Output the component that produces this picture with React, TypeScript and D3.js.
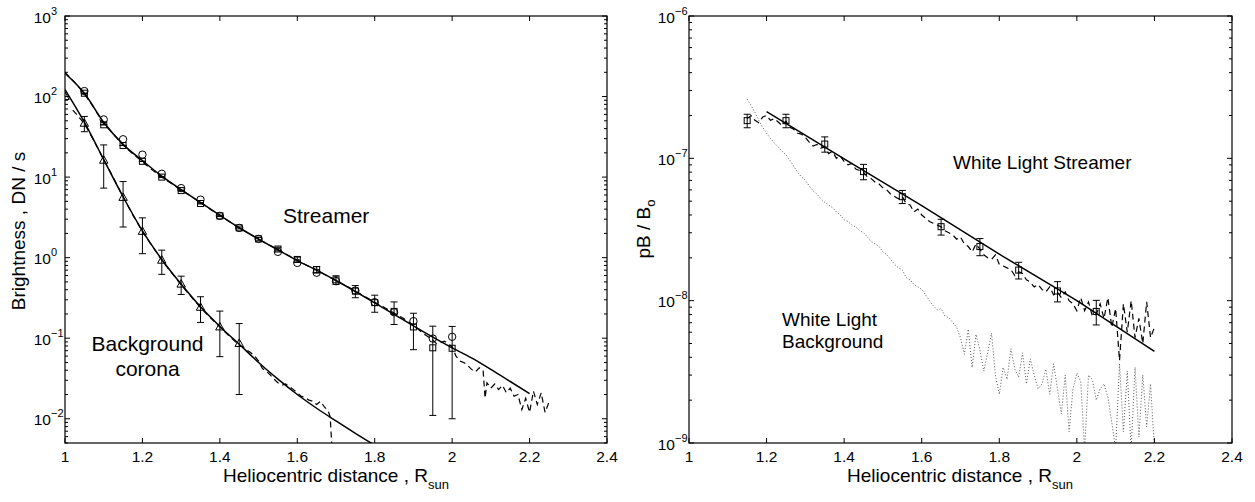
import React from 'react';
import * as d3 from 'd3';

const W = 1255;
const H = 502;
const FONT = '"Liberation Sans", Arial, Helvetica, sans-serif';

// ---------- shared axis data ----------
const xTickVals = [1, 1.2, 1.4, 1.6, 1.8, 2, 2.2, 2.4];
const xTickLabels = ['1', '1.2', '1.4', '1.6', '1.8', '2', '2.2', '2.4'];
const leftDecades = [-2, -1, 0, 1, 2, 3];
const rightDecades = [-9, -8, -7, -6];

// ---------- left panel: EUV brightness ----------
const markerX = [1.05, 1.1, 1.15, 1.2, 1.25, 1.3, 1.35, 1.4, 1.45, 1.5, 1.55, 1.6, 1.65, 1.7, 1.75, 1.8, 1.85, 1.9, 1.95, 2.0];
const streamerCircles = [117, 52, 29.5, 19, 11, 7.3, 5.25, 3.3, 2.34, 1.71, 1.18, 0.86, 0.65, 0.51, 0.39, 0.28, 0.21, 0.163, 0.099, 0.104];
const streamerSquares = [110, 44.6, 24.7, 15.7, 10, 6.8, 4.7, 3.3, 2.34, 1.71, 1.28, 0.95, 0.71, 0.53, 0.384, 0.276, 0.215, 0.138, 0.076, 0.075];
const streamerSquareErr = [0.066, 0.066, 0.066, 0.066, 0.066, 0.066, 0.066, 0.066, 0.066, 0.066, 0.066, 0.066, 0.066, 0.066, 0.066, 0.066, 0.067, 0.066, 0.065, 0.065];

const streamerFitX = [1.0, 1.05, 1.1, 1.15, 1.2, 1.25, 1.3, 1.35, 1.4, 1.45, 1.5, 1.55, 1.6, 1.65, 1.7, 1.75, 1.8, 1.85, 1.9, 1.95, 2.0, 2.05, 2.1, 2.15, 2.2];
const streamerFitY = [195, 110, 48, 25.5, 16, 10.3, 7.0, 4.85, 3.35, 2.35, 1.7, 1.25, 0.92, 0.7, 0.52, 0.38, 0.275, 0.198, 0.142, 0.103, 0.076, 0.057, 0.041, 0.029, 0.0205];

const streamerDashX = [1.0, 1.025, 1.05, 1.075, 1.1, 1.125, 1.15, 1.175, 1.2, 1.225, 1.25, 1.275, 1.3, 1.325, 1.35, 1.375, 1.4, 1.425, 1.45, 1.475, 1.5, 1.525, 1.55, 1.575, 1.6, 1.625, 1.65, 1.675, 1.7, 1.725, 1.75, 1.775, 1.8, 1.825, 1.85, 1.875, 1.9, 1.925, 1.95, 1.96, 1.97, 1.98, 1.99, 2.0, 2.01, 2.02, 2.03, 2.04, 2.05, 2.06, 2.07, 2.08, 2.085, 2.09, 2.1, 2.11, 2.12, 2.13, 2.14, 2.15, 2.16, 2.17, 2.18, 2.19, 2.2, 2.21, 2.22, 2.23, 2.24, 2.25];
const streamerDashY = [200, 150, 108, 72, 46, 34, 25, 19.5, 15.5, 12.3, 10.0, 8.3, 6.9, 5.8, 4.8, 4.0, 3.35, 2.8, 2.35, 2.0, 1.7, 1.45, 1.26, 1.08, 0.93, 0.8, 0.7, 0.6, 0.52, 0.45, 0.385, 0.33, 0.28, 0.24, 0.205, 0.175, 0.145, 0.115, 0.095, 0.085, 0.088, 0.092, 0.085, 0.078, 0.06, 0.052, 0.05, 0.046, 0.041, 0.038, 0.043, 0.04, 0.018, 0.028, 0.024, 0.027, 0.023, 0.026, 0.021, 0.024, 0.019, 0.02, 0.013, 0.018, 0.012, 0.022, 0.015, 0.021, 0.012, 0.016];

const bgTriX = [1.0, 1.05, 1.1, 1.15, 1.2, 1.25, 1.3, 1.35, 1.4, 1.45];
const bgTriY = [100, 46.6, 16.2, 5.6, 2.12, 0.93, 0.469, 0.242, 0.138, 0.086];
const bgTriErr = [0, 10, 8.9, 3.2, 1.0, 0.31, 0.12, 0.085, 0.079, 0.066];

const bgFitX = [1.0, 1.05, 1.1, 1.15, 1.2, 1.25, 1.3, 1.35, 1.4, 1.45, 1.5, 1.55, 1.6, 1.65, 1.7, 1.75, 1.8];
const bgFitY = [122, 48, 16.5, 5.7, 2.15, 0.95, 0.47, 0.245, 0.14, 0.084, 0.05, 0.031, 0.02, 0.0135, 0.0094, 0.0066, 0.0047];

const bgDashX = [1.02, 1.03, 1.05, 1.075, 1.1, 1.125, 1.15, 1.175, 1.2, 1.225, 1.25, 1.275, 1.3, 1.325, 1.35, 1.375, 1.4, 1.425, 1.45, 1.46, 1.47, 1.48, 1.49, 1.5, 1.51, 1.52, 1.53, 1.54, 1.55, 1.56, 1.57, 1.58, 1.59, 1.6, 1.61, 1.62, 1.63, 1.64, 1.65, 1.66, 1.67, 1.68, 1.685, 1.69];
const bgDashY = [68, 60, 46, 28, 16.5, 9.8, 5.7, 3.4, 2.1, 1.4, 0.93, 0.65, 0.46, 0.33, 0.24, 0.18, 0.138, 0.105, 0.082, 0.078, 0.071, 0.066, 0.06, 0.052, 0.042, 0.039, 0.035, 0.031, 0.028, 0.026, 0.027, 0.025, 0.023, 0.021, 0.019, 0.0185, 0.017, 0.0165, 0.015, 0.0165, 0.014, 0.0125, 0.0105, 0.004];

// ---------- right panel: white light pB/B0 ----------
const wlSqX = [1.15, 1.25, 1.35, 1.45, 1.55, 1.65, 1.75, 1.85, 1.95, 2.05];
const wlSqY = [1.84e-7, 1.84e-7, 1.26e-7, 8.07e-8, 5.38e-8, 3.31e-8, 2.4e-8, 1.64e-8, 1.17e-8, 8.4e-9];
const wlSqErr = [2.0e-8, 2.0e-8, 1.55e-8, 1.0e-8, 5.7e-9, 4.2e-9, 3.3e-9, 2.2e-9, 1.9e-9, 1.65e-9];

const wlFitX = [1.2, 1.4, 1.6, 1.8, 2.0, 2.2];
const wlFitY = [2.13e-7, 9.9e-8, 4.65e-8, 2.12e-8, 1.0e-8, 4.4e-9];

const wlStart = 1.15;
const wlStep = 0.01;
// streamer pB (units of 1e-9), sampled every 0.01 from 1.15
const wlDash = [
  190, 200, 185, 178, 195, 200, 185, 190, 180, 170,
  182, 165, 160, 150, 148, 140, 130, 122, 125, 118,
  120, 108, 112, 100, 104, 95, 90, 92, 84, 82,
  80, 74, 72, 68, 66, 62, 60, 56, 54, 52,
  54, 48, 47, 42, 44, 40, 38, 36, 35, 34,
  33, 31, 30, 29, 27, 28, 25, 24, 22, 25,
  23, 21, 20, 19.5, 21, 18, 17.5, 17, 16.5, 15,
  16, 15.5, 14, 13.5, 12.5, 13, 12, 11.5, 12.5, 11,
  11.5, 10.5, 11.5, 10, 9.5, 8.5, 10.5, 8.5, 9.8, 7.8,
  8.0, 9.5, 7.5, 10.5, 6.5, 8.8, 3.8, 9.5, 6.0, 10.0,
  5.5, 7.5, 5.0, 9.8, 5.5, 6.5,
];
// background pB (units of 1e-9)
const wlDot = [
  260, 235, 210, 185, 165, 150, 138, 128, 120, 112,
  106, 97, 88, 80, 74, 70, 64, 59, 56, 52,
  49, 47, 45, 42, 40, 37, 36, 34, 33, 31,
  30, 28, 26, 25, 24, 22, 21, 19.5, 18, 17,
  16.5, 14.5, 14, 13, 12.5, 12, 11, 10, 9.2, 8.6,
  8.8, 7.8, 7.6, 7.0, 6.5, 5.5, 4.2, 6.3, 3.4, 5.8,
  4.5, 3.2, 4.3, 5.9, 3.0, 2.2, 3.4, 2.8, 4.6, 3.3,
  2.9, 4.3, 2.6, 3.9, 3.0, 2.4, 2.6, 3.3, 2.2, 3.6,
  2.4, 1.6, 3.0, 1.2, 2.4, 3.1, 2.7, 0.9, 3.0, 2.8,
  2.0, 2.4, 2.6, 2.1, 1.4, 0.9, 3.6, 1.2, 3.2, 0.9,
  3.4, 1.1, 3.0, 1.3, 2.6, 0.9,
];

// ---------- scales ----------
const xL = d3.scaleLinear().domain([1, 2.4]).range([65, 607]);
const yL = d3.scaleLog().domain([0.005, 1000]).range([443, 16]);
const xR = d3.scaleLinear().domain([1, 2.4]).range([689, 1232]);
const yR = d3.scaleLog().domain([1e-9, 1e-6]).range([443, 16]);

type P = [number, number];
const zip = (xs: number[], ys: number[]): P[] => xs.map((x, i) => [x, ys[i]]);

function Axes({ xs, ys, decades }: { xs: any; ys: any; decades: number[] }) {
  const [x0, x1] = xs.range();
  const [yb, yt] = ys.range();
  const [dmin, dmax] = ys.domain();
  const minors: number[] = [];
  for (let e = Math.floor(Math.log10(dmin)); e < Math.ceil(Math.log10(dmax)); e++) {
    for (let k = 2; k <= 9; k++) {
      const v = k * Math.pow(10, e);
      if (v >= dmin * 0.999 && v <= dmax * 1.001) minors.push(v);
    }
  }
  const els: any[] = [];
  xTickVals.forEach((v, i) => {
    const x = xs(v);
    els.push(<line key={'xt' + i} x1={x} x2={x} y1={yb} y2={yb - 5} />);
    els.push(<line key={'xtt' + i} x1={x} x2={x} y1={yt} y2={yt + 5} />);
    els.push(
      <text key={'xl' + i} x={x} y={yb + 19} textAnchor="middle" fontSize={15.5} stroke="none" fill="#000">
        {xTickLabels[i]}
      </text>
    );
  });
  decades.forEach((e, i) => {
    const y = ys(Math.pow(10, e));
    els.push(<line key={'yt' + i} x1={x0} x2={x0 + 5} y1={y} y2={y} />);
    els.push(<line key={'ytr' + i} x1={x1} x2={x1 - 5} y1={y} y2={y} />);
    els.push(
      <text key={'yl' + i} x={x0 - 14} y={y + 6.5} textAnchor="end" fontSize={15.5} stroke="none" fill="#000">
        10
      </text>
    );
    els.push(
      <text key={'ye' + i} x={x0 - 14} y={y - 1.5} textAnchor="start" fontSize={11} stroke="none" fill="#000">
        {e < 0 ? '\u2212' + Math.abs(e) : String(e)}
      </text>
    );
  });
  minors.forEach((v, i) => {
    const y = ys(v);
    els.push(<line key={'ym' + i} x1={x0} x2={x0 + 3} y1={y} y2={y} />);
    els.push(<line key={'ymr' + i} x1={x1} x2={x1 - 3} y1={y} y2={y} />);
  });
  return (
    <g stroke="#000" strokeWidth={1} fontFamily={FONT}>
      <rect x={x0} y={yt} width={x1 - x0} height={yb - yt} fill="none" strokeWidth={1.2} />
      {els}
    </g>
  );
}

function ErrorBars({ xs, ys, pts, errs, cap }: { xs: any; ys: any; pts: P[]; errs: number[]; cap: number }) {
  const yb = ys.range()[0];
  return (
    <g stroke="#000" strokeWidth={1} fill="none">
      {pts.map((p, i) => {
        if (!errs[i]) return null;
        const x = xs(p[0]);
        const lo = p[1] - errs[i];
        const yLo = lo > 0 ? ys(lo) : yb + 20;
        const yHi = ys(p[1] + errs[i]);
        return (
          <g key={i}>
            <line x1={x} x2={x} y1={yLo} y2={yHi} />
            {lo > 0 && <line x1={x - cap} x2={x + cap} y1={yLo} y2={yLo} />}
            <line x1={x - cap} x2={x + cap} y1={yHi} y2={yHi} />
          </g>
        );
      })}
    </g>
  );
}

export default function App() {
  const lineL = d3.line<P>().x((d) => xL(d[0])).y((d) => yL(d[1]));
  const fitL = d3.line<P>().x((d) => xL(d[0])).y((d) => yL(d[1])).curve(d3.curveMonotoneX);
  const lineR = d3.line<P>().x((d) => xR(d[0])).y((d) => yR(d[1]));

  const wlDashPts: P[] = wlDash.map((v, i) => [wlStart + i * wlStep, v * 1e-9]);
  const wlDotPts: P[] = wlDot.map((v, i) => [wlStart + i * wlStep, v * 1e-9]);

  const circles = zip(markerX, streamerCircles);
  const squares = zip(markerX, streamerSquares);
  const tris = zip(bgTriX, bgTriY);
  const wlSq = zip(wlSqX, wlSqY);

  return (
    <svg width={W} height={H} style={{ position: 'absolute', left: 0, top: 0, background: '#fff' }} fontFamily={FONT}>
      <defs>
        <clipPath id="clipL">
          <rect x={65} y={16} width={542} height={427} />
        </clipPath>
        <clipPath id="clipR">
          <rect x={689} y={16} width={543} height={427} />
        </clipPath>
      </defs>
      <rect x={0} y={0} width={W} height={H} fill="#fff" />

      {/* ---------------- left panel ---------------- */}
      <g clipPath="url(#clipL)" fill="none" stroke="#000">
        <path d={fitL(zip(streamerFitX, streamerFitY)) || ''} strokeWidth={1.5} />
        <path d={fitL(zip(bgFitX, bgFitY)) || ''} strokeWidth={1.5} />
        <path d={lineL(zip(streamerDashX, streamerDashY)) || ''} strokeWidth={1.2} strokeDasharray="6,4" />
        <path d={lineL(zip(bgDashX, bgDashY)) || ''} strokeWidth={1.2} strokeDasharray="6,4" />
        <ErrorBars xs={xL} ys={yL} pts={squares} errs={streamerSquareErr} cap={3.5} />
        <ErrorBars xs={xL} ys={yL} pts={tris} errs={bgTriErr} cap={3.5} />
        {circles.map((p, i) => (
          <circle key={'c' + i} cx={xL(p[0])} cy={yL(p[1])} r={3.7} strokeWidth={1} />
        ))}
        {squares.map((p, i) => (
          <rect key={'s' + i} x={xL(p[0]) - 3} y={yL(p[1]) - 3} width={6} height={6} strokeWidth={1} />
        ))}
        {tris.map((p, i) => {
          const x = xL(p[0]);
          const y = yL(p[1]);
          return <path key={'t' + i} d={`M${x},${y - 4.5}L${x + 4.2},${y + 3}L${x - 4.2},${y + 3}Z`} strokeWidth={1} />;
        })}
      </g>
      <Axes xs={xL} ys={yL} decades={leftDecades} />
      <text x={283} y={223} fontSize={21}>Streamer</text>
      <text x={147.5} y={351} fontSize={21} textAnchor="middle">Background</text>
      <text x={147.5} y={376} fontSize={21} textAnchor="middle">corona</text>
      <text x={336} y={482} fontSize={19} textAnchor="middle">
        Heliocentric distance , R<tspan fontSize={13} dy={7}>sun</tspan>
      </text>
      <text transform="translate(25,231) rotate(-90)" fontSize={19} textAnchor="middle">
        Brightness , DN / s
      </text>

      {/* ---------------- right panel ---------------- */}
      <g clipPath="url(#clipR)" fill="none" stroke="#000">
        <path d={lineR(wlDotPts) || ''} strokeWidth={0.9} strokeDasharray="1,2" stroke="#444" />
        <path d={lineR(zip(wlFitX, wlFitY)) || ''} strokeWidth={1.5} />
        <path d={lineR(wlDashPts) || ''} strokeWidth={1.2} strokeDasharray="6,4" />
        <ErrorBars xs={xR} ys={yR} pts={wlSq} errs={wlSqErr} cap={3.5} />
        {wlSq.map((p, i) => (
          <rect key={'w' + i} x={xR(p[0]) - 3} y={yR(p[1]) - 3} width={6} height={6} strokeWidth={1} />
        ))}
      </g>
      <Axes xs={xR} ys={yR} decades={rightDecades} />
      <text x={953} y={169} fontSize={19}>White Light Streamer</text>
      <text x={782} y={326} fontSize={19}>White Light</text>
      <text x={782} y={348} fontSize={19}>Background</text>
      <text x={960} y={482} fontSize={19} textAnchor="middle">
        Heliocentric distance , R<tspan fontSize={13} dy={7}>sun</tspan>
      </text>
      <text transform="translate(650,229) rotate(-90)" fontSize={19} textAnchor="middle">
        pB / B<tspan fontSize={13} dy={5}>o</tspan>
      </text>
    </svg>
  );
}
